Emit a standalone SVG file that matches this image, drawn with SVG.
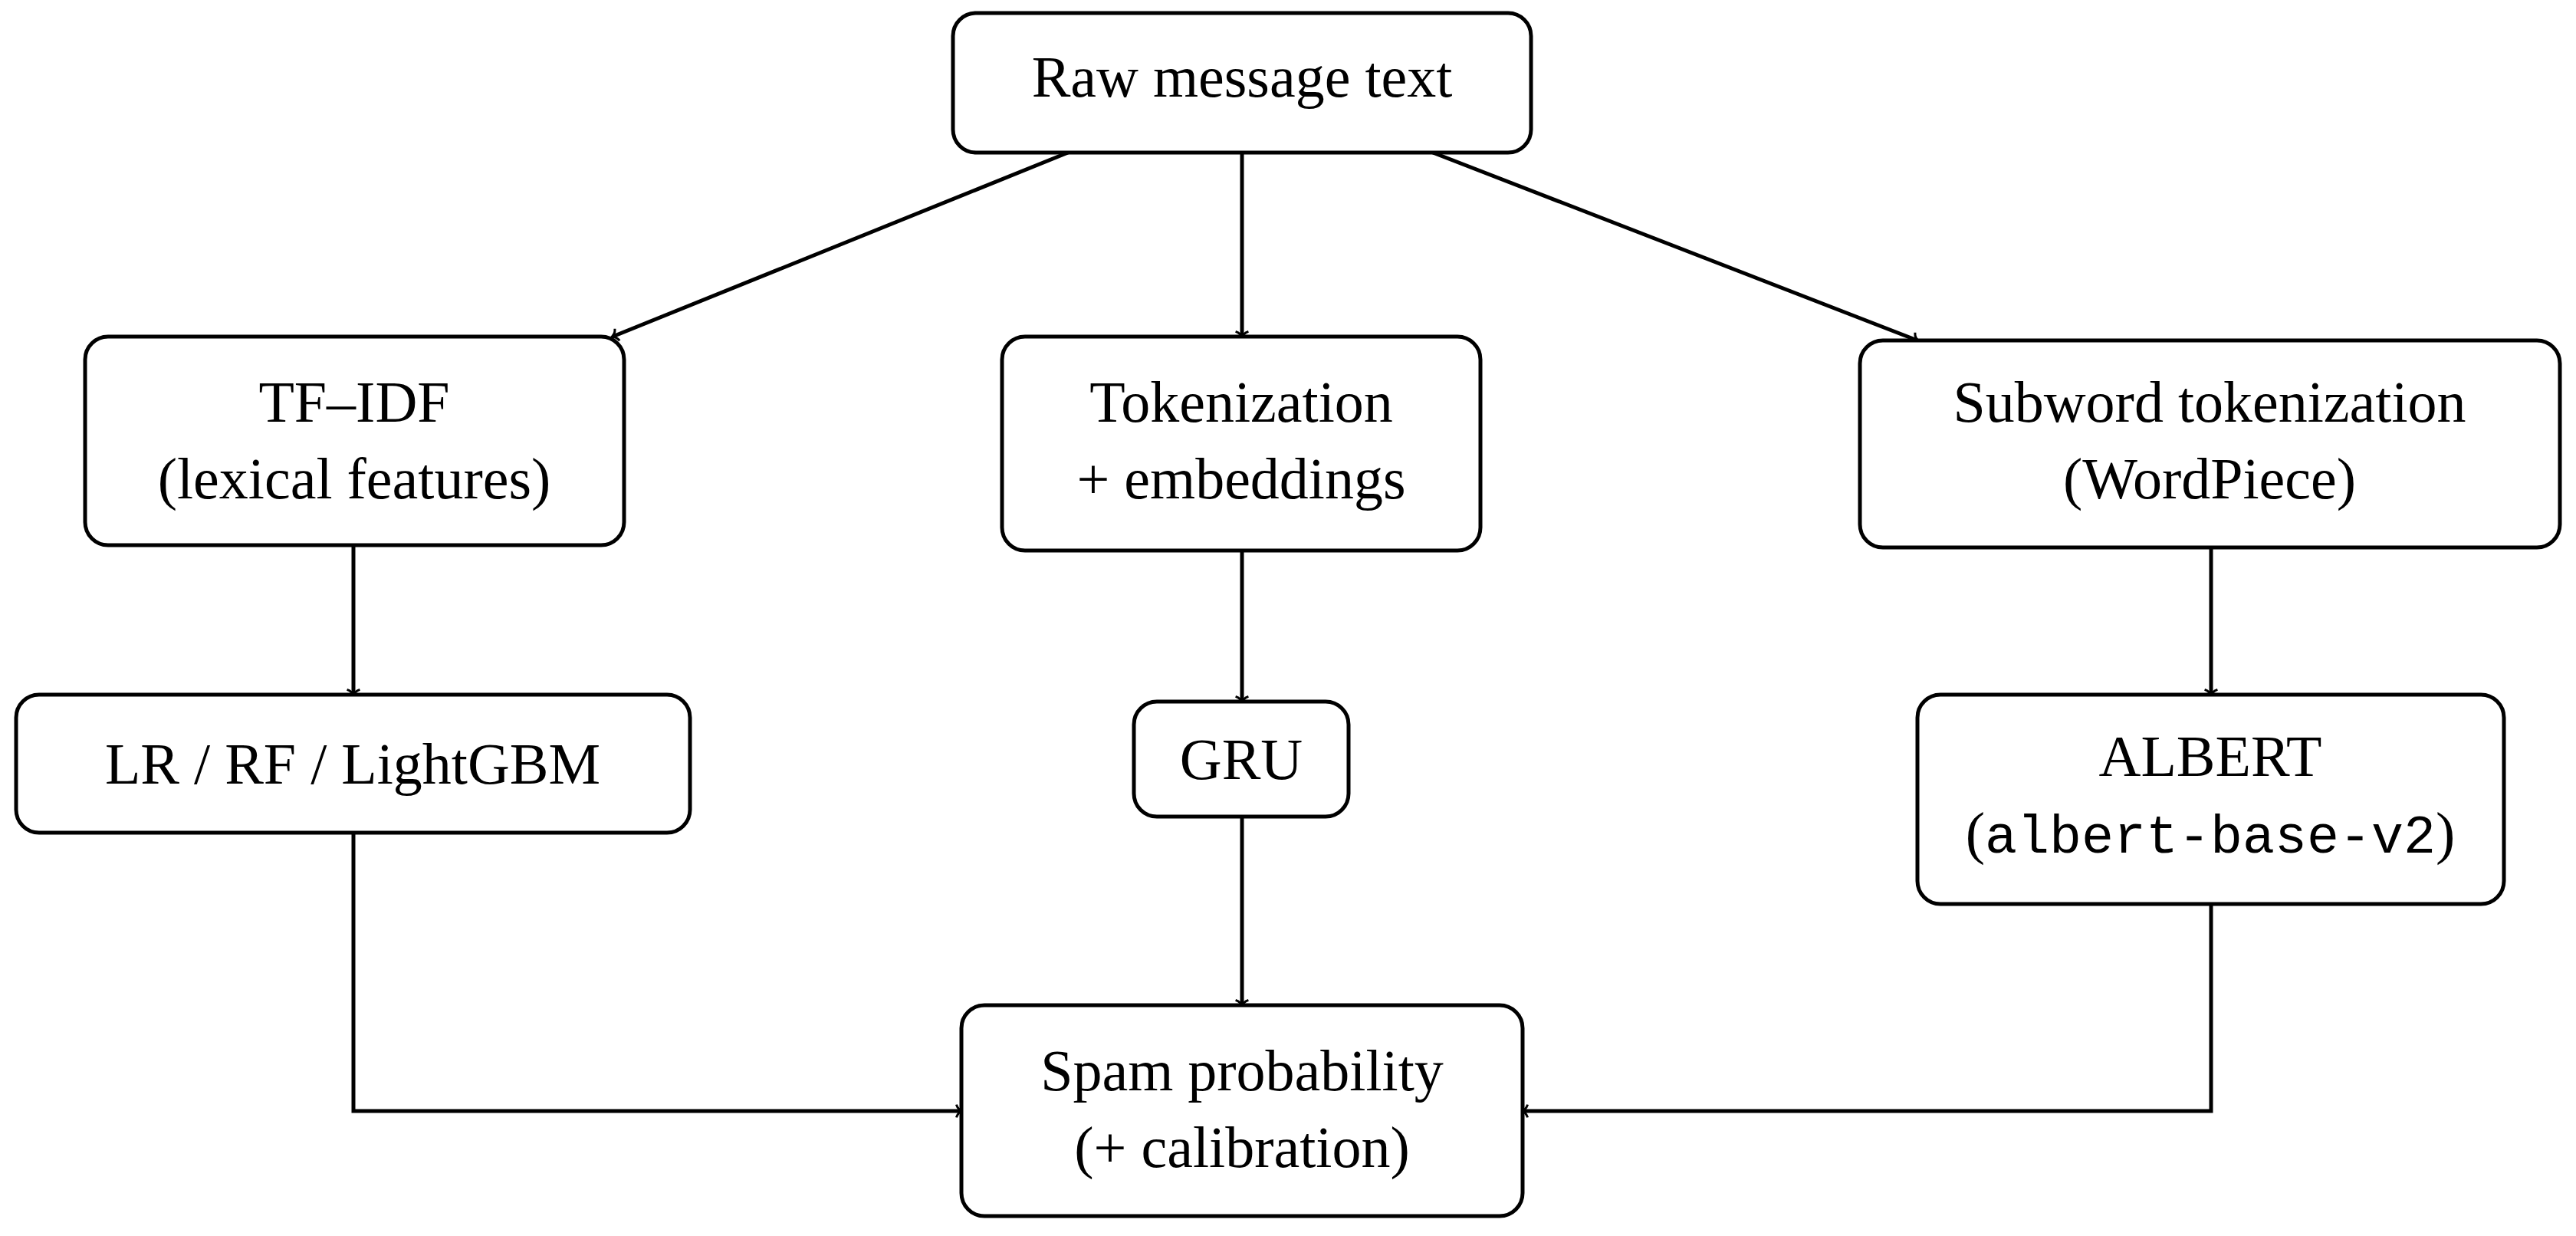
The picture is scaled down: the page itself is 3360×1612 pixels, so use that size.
<svg xmlns="http://www.w3.org/2000/svg" width="3360" height="1612" viewBox="0 0 3360 1612">
<style>
.box{fill:#fff;stroke:#000;stroke-width:5}
text{font-family:"Liberation Serif","DejaVu Serif",serif;font-size:76px;text-anchor:middle;fill:#000}
.mono{font-family:"Liberation Mono","DejaVu Sans Mono",monospace;font-size:70px}
.c{fill:none;stroke:#000;stroke-width:5}
</style>
<defs>
<marker id="a" viewBox="0 0 10 10" refX="9" refY="5" markerWidth="6" markerHeight="6" markerUnits="userSpaceOnUse" orient="auto" style="overflow:visible">
<path d="M-2,-14 Q2,-2 12,0 Q2,2 -2,14" fill="none" stroke="#000" stroke-width="5" transform="translate(0,5) scale(1)"/>
</marker>
</defs>
<rect width="3360" height="1612" fill="#fff"/>
<g id="connectors">
<path class="c" d="M1393,199 L799,439" marker-end="url(#a)"/>
<path class="c" d="M1620,199 L1620,439" marker-end="url(#a)"/>
<path class="c" d="M1869,199 L2501,444" marker-end="url(#a)"/>
<path class="c" d="M461,711 L461,906" marker-end="url(#a)"/>
<path class="c" d="M1620,718 L1620,915" marker-end="url(#a)"/>
<path class="c" d="M2884,714 L2884,906" marker-end="url(#a)"/>
<path class="c" d="M1620,1065 L1620,1311" marker-end="url(#a)"/>
<path class="c" d="M461,1086 L461,1449 L1254,1449" marker-end="url(#a)"/>
<path class="c" d="M2884,1179 L2884,1449 L1986,1449" marker-end="url(#a)"/>
</g>
<g id="raw"><rect class="box" x="1243" y="17" width="754" height="182" rx="30"/><text x="1620" y="126">Raw message text</text></g>
<g id="tfidf"><rect class="box" x="111" y="439" width="703" height="272" rx="30"/><text x="462" y="550">TF–IDF</text><text x="462" y="650">(lexical features)</text></g>
<g id="tok"><rect class="box" x="1307" y="439" width="624" height="279" rx="30"/><text x="1619" y="550">Tokenization</text><text x="1619" y="650">+ embeddings</text></g>
<g id="subword"><rect class="box" x="2426" y="444" width="913" height="270" rx="30"/><text x="2882" y="550">Subword tokenization</text><text x="2882" y="650">(WordPiece)</text></g>
<g id="lr"><rect class="box" x="21" y="906" width="879" height="180" rx="30"/><text x="460" y="1022">LR / RF / LightGBM</text></g>
<g id="gru"><rect class="box" x="1479" y="915" width="280" height="150" rx="30"/><text x="1619" y="1016">GRU</text></g>
<g id="albert"><rect class="box" x="2501" y="906" width="765" height="273" rx="30"/><text x="2883" y="1012">ALBERT</text><text x="2883" y="1112">(<tspan class="mono">albert-base-v2</tspan>)</text></g>
<g id="spam"><rect class="box" x="1254" y="1311" width="732" height="275" rx="30"/><text x="1620" y="1422">Spam probability</text><text x="1620" y="1522">(+ calibration)</text></g>
</svg>
